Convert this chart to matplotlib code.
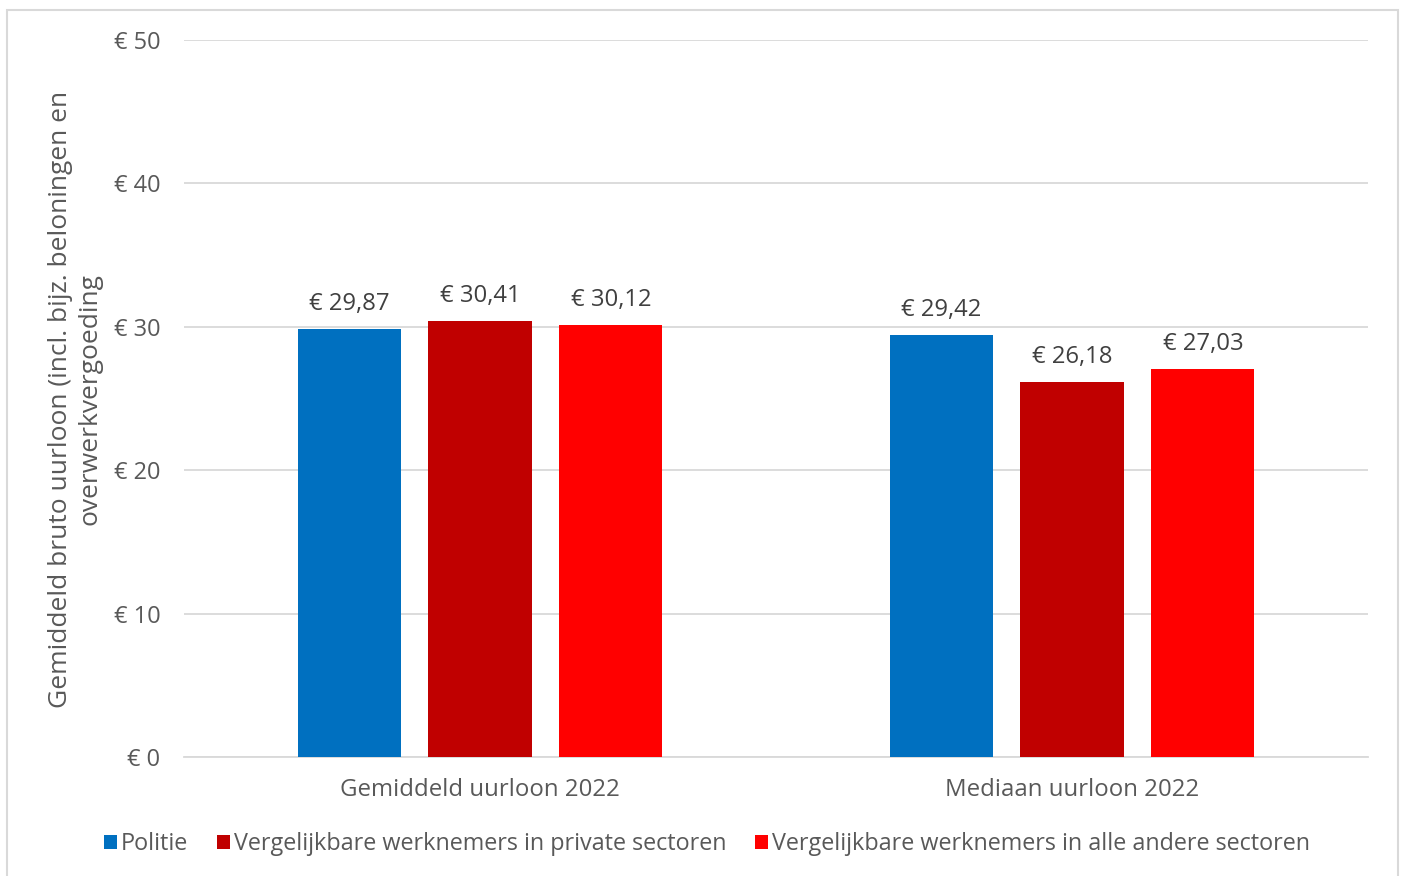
import matplotlib
matplotlib.use("Agg")
import matplotlib.pyplot as plt
import numpy as np
from matplotlib.patches import Rectangle

categories = ["Gemiddeld uurloon 2022", "Mediaan uurloon 2022"]
series_names = ["Politie",
                "Vergelijkbare werknemers in private sectoren",
                "Vergelijkbare werknemers in alle andere sectoren"]
politie = [29.87, 29.42]
private = [30.41, 26.18]
andere = [30.12, 27.03]
series_values = [politie, private, andere]
colors = ["#0070C0", "#C00000", "#FF0000"]
yticks = [0, 10, 20, 30, 40, 50]

plt.rcParams['font.family'] = ['Open Sans', 'DejaVu Sans']
txt = "#595959"

fig = plt.figure(figsize=(14.02, 8.76), dpi=100)
W, H = 1402, 876
ax = fig.add_axes([184 / W, 1 - 757 / H, (1368 - 184) / W, (757 - 40) / H])

x = np.arange(len(categories))
bw = 0.174
step = 0.221
for i, (name, vals, c) in enumerate(zip(series_names, series_values, colors)):
    pos = x + (i - 1) * step
    ax.bar(pos, vals, width=bw, color=c, label=name, zorder=3)
    for p, v in zip(pos, vals):
        ax.text(p, v + 0.9, "€ " + f"{v:.2f}".replace(".", ","), ha="center", va="bottom",
                fontsize=17.2, color="#404040")

ax.set_xlim(-0.5, 1.5)
ax.set_ylim(0, 50)
ax.set_yticks(yticks)
ax.set_yticklabels([f"€ {t}" for t in yticks], fontsize=17, color=txt)
ax.set_xticks(x)
ax.set_xticklabels(categories, fontsize=17.3, color=txt)
ax.tick_params(axis="x", length=0, pad=15)
ax.tick_params(axis="y", length=0, pad=17)
ax.grid(axis="y", color="#D9D9D9", linewidth=1.3, zorder=0)
for s in ["top", "right", "left"]:
    ax.spines[s].set_visible(False)
ax.spines["bottom"].set_color("#D9D9D9")
ax.spines["bottom"].set_linewidth(1.3)

fig.text(75 / W, 1 - 399 / H,
         "Gemiddeld bruto uurloon (incl. bijz. beloningen en\noverwerkvergoeding",
         rotation=90, ha="center", va="center", fontsize=19, color=txt, linespacing=1.25)

fig.legend(loc="center", bbox_to_anchor=(707 / W, 1 - 844 / H), ncol=3, frameon=False,
           fontsize=16.8, handlelength=0.55, handleheight=0.55, handletextpad=0.15,
           columnspacing=1.25, labelcolor=txt)

fig.patches.append(Rectangle((7 / W, -0.05), (1398 - 7) / W, 1 - 10 / H + 0.05,
                             transform=fig.transFigure, fill=False,
                             edgecolor="#D9D9D9", linewidth=1.5))

fig.savefig("out.png", dpi=100)
